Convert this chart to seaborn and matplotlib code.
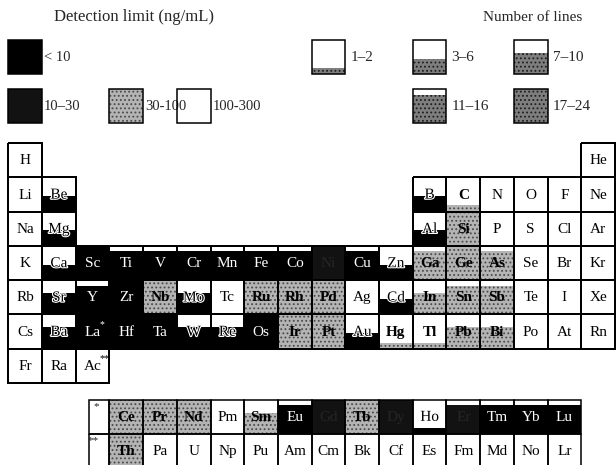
import matplotlib
matplotlib.use("Agg")
import numpy as np
import pandas as pd
import matplotlib.pyplot as plt
import matplotlib.patheffects as pe
from matplotlib.colors import ListedColormap
import seaborn as sns

# ------------------------------------------------------
# Data
# ------------------------------------------------------

symbols = ["H", "He",
           "Li", "Be", "B", "C", "N", "O", "F", "Ne",
           "Na", "Mg", "Al", "Si", "P", "S", "Cl", "Ar",
           "K", "Ca", "Sc", "Ti", "V", "Cr", "Mn", "Fe", "Co", "Ni",
           "Cu", "Zn", "Ga", "Ge", "As", "Se", "Br", "Kr",
           "Rb", "Sr", "Y", "Zr", "Nb", "Mo", "Tc", "Ru", "Rh", "Pd",
           "Ag", "Cd", "In", "Sn", "Sb", "Te", "I", "Xe",
           "Cs", "Ba", "La", "Hf", "Ta", "W", "Re", "Os", "Ir", "Pt",
           "Au", "Hg", "Tl", "Pb", "Bi", "Po", "At", "Rn",
           "Fr", "Ra", "Ac",
           "Ce", "Pr", "Nd", "Pm", "Sm", "Eu", "Gd", "Tb", "Dy", "Ho",
           "Er", "Tm", "Yb", "Lu",
           "Th", "Pa", "U", "Np", "Pu", "Am", "Cm", "Bk", "Cf", "Es",
           "Fm", "Md", "No", "Lr"]

groups = ([1, 18]
          + [1, 2] + list(range(13, 19))
          + [1, 2] + list(range(13, 19))
          + list(range(1, 19))
          + list(range(1, 19))
          + list(range(1, 19))
          + [1, 2, 3]
          + list(range(4, 18))
          + list(range(4, 18)))

rows = ([1] * 2 + [2] * 8 + [3] * 8 + [4] * 18 + [5] * 18 + [6] * 18
        + [7] * 3 + [8] * 14 + [9] * 14)

footnotes = {"La": "*", "Ac": "**"}

detection_limit = {
    "Be": "< 10", "B": "< 10", "C": "30-100", "Mg": "< 10", "Al": "< 10",
    "Si": "30-100", "Ca": "< 10", "Sc": "< 10", "Ti": "< 10", "V": "< 10",
    "Cr": "< 10", "Mn": "< 10", "Fe": "< 10", "Co": "< 10", "Ni": "10–30",
    "Cu": "< 10", "Zn": "< 10", "Ga": "30-100", "Ge": "30-100",
    "As": "30-100", "Sr": "< 10", "Y": "< 10", "Zr": "< 10",
    "Nb": "30-100", "Mo": "< 10", "Ru": "30-100", "Rh": "30-100",
    "Pd": "30-100", "Cd": "< 10", "In": "30-100", "Sn": "30-100",
    "Sb": "30-100", "Ba": "< 10", "La": "< 10", "Hf": "< 10", "Ta": "< 10",
    "W": "< 10", "Re": "< 10", "Os": "< 10", "Ir": "30-100",
    "Pt": "30-100", "Au": "< 10", "Hg": "30-100", "Tl": "30-100",
    "Pb": "30-100", "Bi": "30-100", "Ce": "30-100", "Pr": "30-100",
    "Nd": "30-100", "Sm": "30-100", "Eu": "< 10", "Gd": "10–30",
    "Tb": "30-100", "Dy": "10–30", "Ho": "< 10", "Er": "10–30",
    "Tm": "< 10", "Yb": "< 10", "Lu": "< 10", "Th": "30-100",
}

number_of_lines = {
    "Be": "3–6", "B": "3–6", "C": "1–2", "Mg": "3–6", "Al": "3–6",
    "Si": "17–24", "Ca": "3–6", "Sc": "17–24", "Ti": "11–16", "V": "11–16",
    "Cr": "11–16", "Mn": "11–16", "Fe": "11–16", "Co": "11–16",
    "Ni": "17–24", "Cu": "11–16", "Zn": "3–6", "Ga": "11–16",
    "Ge": "17–24", "As": "11–16", "Sr": "7–10", "Y": "11–16",
    "Zr": "17–24", "Nb": "17–24", "Mo": "7–10", "Ru": "17–24",
    "Rh": "17–24", "Pd": "17–24", "Cd": "3–6", "In": "7–10",
    "Sn": "11–16", "Sb": "11–16", "Ba": "7–10", "La": "17–24",
    "Hf": "17–24", "Ta": "17–24", "W": "7–10", "Re": "7–10",
    "Os": "17–24", "Ir": "17–24", "Pt": "17–24", "Au": "3–6",
    "Hg": "1–2", "Tl": "1–2", "Pb": "7–10", "Bi": "7–10",
    "Ce": "17–24", "Pr": "17–24", "Nd": "17–24", "Sm": "7–10",
    "Eu": "11–16", "Gd": "17–24", "Tb": "17–24", "Dy": "17–24",
    "Ho": "1–2", "Er": "11–16", "Tm": "11–16", "Yb": "11–16",
    "Lu": "11–16", "Th": "17–24",
}

limit_labels = ["< 10", "10–30", "30-100", "100-300"]
line_labels = ["1–2", "3–6", "7–10", "11–16", "17–24"]

# ------------------------------------------------------
# Styles
# ------------------------------------------------------

sns.set_theme(style="white")
plt.rcParams["font.family"] = ["Liberation Serif", "DejaVu Serif"]
plt.rcParams["hatch.linewidth"] = 0.8

limit_colors = {"< 10": "#000000", "10–30": "#121212",
                "30-100": "#b4b4b4", "100-300": "#ffffff"}
line_fraction = {"1–2": 0.18, "3–6": 0.45, "7–10": 0.62,
                 "11–16": 0.84, "17–24": 1.0}
F_GAP = 0.48          # gap between row 7 and the f-block
FS = 11
LW = 1.1


def row_top(r):
    return r - 1 + (F_GAP if r > 7 else 0)


df = pd.DataFrame({"symbol": symbols, "col": groups, "row": rows})
df["limit"] = df["symbol"].map(detection_limit)
df["lines"] = df["symbol"].map(number_of_lines)
df["x"] = df["col"] - 0.5
df["top"] = df["row"].apply(row_top)
df["frac"] = df["lines"].map(line_fraction)

fig = plt.figure(figsize=(6.16, 4.65), dpi=100)
ax = fig.add_axes([0, 0, 1, 1])

# ------------------------------------------------------
# Cell fills (height = number of lines, colour = detection limit)
# ------------------------------------------------------

measured = df.dropna(subset=["limit"])
for lim, part in measured.groupby("limit"):
    gray = lim == "30-100"
    ax.bar(part["x"], -part["frac"], bottom=part["top"] + 1, width=1,
           color=limit_colors[lim], hatch="...." if gray else None,
           edgecolor="#4a4a4a" if gray else limit_colors[lim],
           linewidth=0, zorder=1)

# cell borders: main table through a transparent heatmap
main = df[df["row"] <= 7].assign(one=1.0)
grid = (main.pivot(index="row", columns="col", values="one")
        .reindex(index=range(1, 8), columns=range(1, 19)))
sns.heatmap(grid, cmap=ListedColormap([(1, 1, 1, 0)]), cbar=False,
            linewidths=LW, linecolor="black",
            xticklabels=False, yticklabels=False, ax=ax)
mesh = ax.collections[-1]
empty = grid.isna().values.ravel()
mesh.set_edgecolor([(0, 0, 0, 0) if e else (0, 0, 0, 1) for e in empty])
mesh.set_zorder(3)

# f-block borders
fblock = df[df["row"] > 7]
ax.bar(fblock["x"], 1, bottom=fblock["top"], width=1, fill=False,
       edgecolor="black", linewidth=LW, zorder=3)
star_top = [row_top(8), row_top(9)]
ax.bar([2.695, 2.695], [1, 1], bottom=star_top, width=0.61, fill=False,
       edgecolor="black", linewidth=LW, zorder=3)
ax.text(2.62, star_top[0] + 0.2, "*", ha="center", va="center",
        fontsize=8, zorder=4)
ax.text(2.52, star_top[1] + 0.2, "**", ha="center", va="center",
        fontsize=8, zorder=4)

# symbols
halo = [pe.withStroke(linewidth=1.6, foreground="white")]
for _, r in df.iterrows():
    color, weight, effects = "black", "normal", None
    if r["limit"] == "< 10" and r["frac"] >= 0.8:
        color = "white"
    elif r["limit"] == "< 10":
        effects = halo
    elif r["limit"] == "10–30":
        color = "#262626"
    elif r["limit"] == "30-100":
        weight = "bold"
    ax.text(r["x"], r["top"] + 0.52, r["symbol"], ha="center",
            va="center", fontsize=FS, color=color, fontweight=weight,
            path_effects=effects, zorder=4)
    if r["symbol"] in footnotes:
        ax.text(r["x"] + 0.22, r["top"] + 0.3, footnotes[r["symbol"]],
                ha="left", va="center", fontsize=7, color=color, zorder=4)

# ------------------------------------------------------
# Legends
# ------------------------------------------------------

ax.text(3.73, -3.67, "Detection limit (ng/mL)", ha="center", va="center",
        fontsize=12)
ax.text(15.57, -3.67, "Number of lines", ha="center", va="center",
        fontsize=FS)

limit_pos = [(0, -3.0), (0, -1.57), (3, -1.57), (5, -1.57)]
for lab, (x0, y0) in zip(limit_labels, limit_pos):
    gray = lab == "30-100"
    ax.bar(x0 + 0.5, 1, bottom=y0, width=1, color=limit_colors[lab],
           hatch="...." if gray else None,
           edgecolor="#4a4a4a" if gray else "black",
           linewidth=0, zorder=1)
    ax.bar(x0 + 0.5, 1, bottom=y0, width=1, fill=False, edgecolor="black",
           linewidth=LW, zorder=3)
    ax.text(x0 + 1.06, y0 + 0.5, lab, ha="left", va="center",
            fontsize=10.5)

lines_pos = [(9, -3.0), (12, -3.0), (15, -3.0), (12, -1.57), (15, -1.57)]
for lab, (x0, y0) in zip(line_labels, lines_pos):
    f = line_fraction[lab]
    ax.bar(x0 + 0.5, -f, bottom=y0 + 1, width=1, color="#7e7e7e",
           hatch="....", edgecolor="#1e1e1e", linewidth=0, zorder=1)
    ax.bar(x0 + 0.5, 1, bottom=y0, width=1, fill=False, edgecolor="black",
           linewidth=LW, zorder=3)
    ax.text(x0 + 1.15, y0 + 0.5, lab, ha="left", va="center", fontsize=FS)

ax.set_xlim(-0.246, 18.03)
ax.set_ylim(9.39, -4.17)
ax.axis("off")

fig.savefig("out.png", dpi=100)
